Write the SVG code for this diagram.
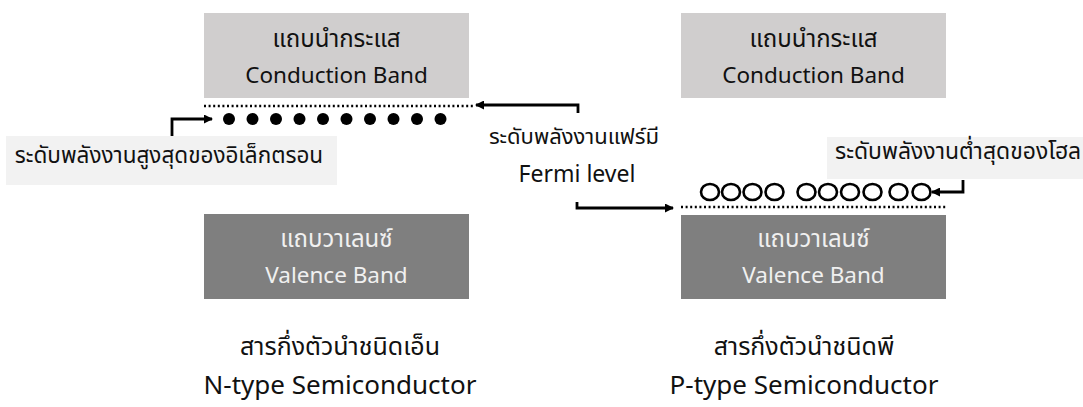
<svg xmlns="http://www.w3.org/2000/svg" width="1083" height="407" viewBox="0 0 1083 407">
<style>
text{font-family:"Noto Sans Thai","Noto Sans","DejaVu Sans",sans-serif;font-size:22px;text-anchor:middle;fill:#111}
.th{font-size:24px}
.en{font-size:22.5px}
.lt{fill:#f0f0f0}
.cb{fill:#d0cece}
.vb{fill:#7f7f7f}
.lb{fill:#f2f2f2}
.dot{stroke:#000;stroke-width:2.5;stroke-dasharray:2 2.6;fill:none}
.ar{stroke:#000;stroke-width:2.8;fill:none;marker-end:url(#ah)}
.e{fill:#000}
.h{fill:none;stroke:#000;stroke-width:2.6}
.title{font-size:26px}
.tth{font-size:25px}
</style>
<defs>
<marker id="ah" markerWidth="9" markerHeight="9" refX="8" refY="4.5" orient="auto" markerUnits="userSpaceOnUse">
<path d="M0,0 L9,4.5 L0,9 z" fill="#000"/>
</marker>
</defs>
<rect width="1083" height="407" fill="#fff"/>
<g id="n-conduction">
<rect class="cb" x="204" y="13" width="265" height="85"/>
<text class="th" x="336.5" y="47">แถบนำกระแส</text>
<text class="en" x="336.5" y="83">Conduction Band</text>
</g>
<g id="n-valence">
<rect class="vb" x="204" y="214" width="265" height="85"/>
<text class="th lt" x="336.5" y="247">แถบวาเลนซ์</text>
<text class="en lt" x="336.5" y="283">Valence Band</text>
</g>
<g id="p-conduction">
<rect class="cb" x="681" y="13" width="265" height="85"/>
<text class="th" x="813.5" y="47">แถบนำกระแส</text>
<text class="en" x="813.5" y="83">Conduction Band</text>
</g>
<g id="p-valence">
<rect class="vb" x="681" y="215" width="265" height="84"/>
<text class="th lt" x="813.5" y="247">แถบวาเลนซ์</text>
<text class="en lt" x="813.5" y="283">Valence Band</text>
</g>
<g id="electron-label">
<rect class="lb" x="6" y="136" width="331" height="49"/>
<text x="169" y="163" style="font-size:22.5px">ระดับพลังงานสูงสุดของอิเล็กตรอน</text>
</g>
<g id="hole-label">
<rect class="lb" x="827" y="137" width="256" height="42"/>
<text x="835" y="159" style="text-anchor:start;font-size:23px" textLength="246" lengthAdjust="spacingAndGlyphs">ระดับพลังงานต่ำสุดของโฮล</text>
</g>
<g id="fermi-label">
<text x="574" y="144">ระดับพลังงานแฟร์มี</text>
<text x="577" y="182" style="font-size:23px">Fermi level</text>
</g>
<g id="n-title">
<text class="tth" x="340" y="355">สารกึ่งตัวนำชนิดเอ็น</text>
<text class="title" x="340" y="394">N-type Semiconductor</text>
</g>
<g id="p-title">
<text class="tth" x="804" y="355">สารกึ่งตัวนำชนิดพี</text>
<text class="title" x="804" y="394">P-type Semiconductor</text>
</g>
<g id="electrons">
<circle class="e" cx="229" cy="119" r="6"/>
<circle class="e" cx="252.5" cy="119" r="6"/>
<circle class="e" cx="276" cy="119" r="6"/>
<circle class="e" cx="299.5" cy="119" r="6"/>
<circle class="e" cx="323" cy="119" r="6"/>
<circle class="e" cx="346.5" cy="119" r="6"/>
<circle class="e" cx="370" cy="119" r="6"/>
<circle class="e" cx="393.5" cy="119" r="6"/>
<circle class="e" cx="417" cy="119" r="6"/>
<circle class="e" cx="440.5" cy="119" r="6"/>
</g>
<g id="holes">
<ellipse class="h" cx="710" cy="192" rx="9" ry="8"/>
<ellipse class="h" cx="731" cy="192" rx="9" ry="8"/>
<ellipse class="h" cx="752.5" cy="192" rx="9" ry="8"/>
<ellipse class="h" cx="774.5" cy="192" rx="9" ry="8"/>
<ellipse class="h" cx="806.5" cy="192" rx="9" ry="8"/>
<ellipse class="h" cx="828" cy="192" rx="9" ry="8"/>
<ellipse class="h" cx="850" cy="192" rx="9" ry="8"/>
<ellipse class="h" cx="872.5" cy="192" rx="9" ry="8"/>
<ellipse class="h" cx="898.5" cy="192" rx="9" ry="8"/>
<ellipse class="h" cx="921.5" cy="192" rx="9" ry="8"/>
</g>
<g id="connectors">
<line class="dot" x1="204" y1="106" x2="474" y2="106"/>
<line class="dot" x1="681" y1="207" x2="946" y2="207"/>
<polyline class="ar" points="172,136 172,119 212,119"/>
<polyline class="ar" points="578,113 578,105 476,105"/>
<polyline class="ar" points="577,202 577,208 673,208"/>
<polyline class="ar" points="963,180 963,192 932,192"/>
</g>
</svg>
